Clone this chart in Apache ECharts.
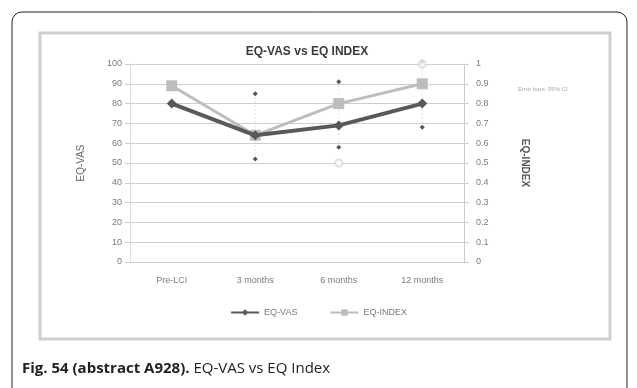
<!DOCTYPE html>
<html>
<head>
<meta charset="utf-8">
<script src="https://cdn.jsdelivr.net/npm/echarts@6/dist/echarts.min.js"></script>
<style>
  html, body { margin: 0; padding: 0; background: #fff; }
  #chart { width: 637px; height: 388px; }
</style>
</head>
<body>
<div id="chart"></div>
<script>
const categories = ['Pre-LCI', '3 months', '6 months', '12 months'];
const eqVas = [80, 64, 69, 80];
const eqIndex = [0.89, 0.64, 0.80, 0.90];
// whisker ends (EQ-VAS scale)
const vasLow = [null, 52, 58, 68];
const vasHigh = [null, 85, 91, 101];
// faint open circles (EQ-INDEX scale)
const indexEnds = [null, null, 0.50, 1.0];
const vasTicks = [0, 100, 10];
const indexTicks = [0, 1, 0.1];

const chart = echarts.init(document.getElementById('chart'));

const labelStyle = { color: '#7a7a7a', fontSize: 9, fontFamily: 'Liberation Sans' };

chart.setOption({
    animation: false,
    title: {
        text: 'EQ-VAS vs EQ INDEX',
        left: 302, top: 41, textAlign: 'center',
        textStyle: { fontSize: 12, fontWeight: 'bold', color: '#3a3a3a', fontFamily: 'Liberation Sans' }
    },
    grid: { left: 130, right: 173, top: 64, bottom: 126 },
    legend: {
        bottom: 66, left: 'center',
        itemWidth: 28, itemHeight: 8, itemGap: 32,
        textStyle: { color: '#7a7a7a', fontSize: 9 },
        data: ['EQ-VAS', 'EQ-INDEX']
    },
    xAxis: {
        type: 'category', data: categories,
        axisLine: { lineStyle: { color: '#ccc', type: 'dotted' } },
        axisTick: { show: false },
        axisLabel: Object.assign({ margin: 14 }, labelStyle)
    },
    yAxis: [{
        type: 'value', min: vasTicks[0], max: vasTicks[1], interval: vasTicks[2],
        name: 'EQ-VAS', nameLocation: 'middle', nameGap: 44, nameRotate: 90,
        nameTextStyle: { color: '#666', fontSize: 10 },
        axisLine: { show: true, lineStyle: { color: '#ddd' } },
        axisTick: { show: true, lineStyle: { color: '#ccc' } },
        axisLabel: labelStyle,
        splitLine: { lineStyle: { color: '#cfcfcf' } }
    }, {
        type: 'value', min: indexTicks[0], max: indexTicks[1], interval: indexTicks[2],
        name: 'EQ-INDEX', nameLocation: 'middle', nameGap: 56, nameRotate: -90,
        nameTextStyle: { color: '#555', fontSize: 10, fontWeight: 'bold' },
        axisLine: { show: true, lineStyle: { color: '#ccc' } },
        axisTick: { show: true, lineStyle: { color: '#ccc' } },
        axisLabel: Object.assign({ margin: 12 }, labelStyle),
        splitLine: { show: false }
    }],
    series: [{
        name: 'whiskers', type: 'custom', yAxisIndex: 0, clip: false, z: 1,
        data: categories.map((c, i) => [i, vasLow[i], vasHigh[i]]).filter(d => d[1] !== null),
        renderItem: function (params, api) {
            const lo = api.coord([api.value(0), api.value(1)]);
            const hi = api.coord([api.value(0), api.value(2)]);
            const d = 2.5;
            const diamond = p => ({
                type: 'polygon',
                shape: { points: [[p[0], p[1] - d], [p[0] + d, p[1]], [p[0], p[1] + d], [p[0] - d, p[1]]] },
                style: { fill: '#555' }
            });
            return {
                type: 'group',
                children: [{
                    type: 'line',
                    shape: { x1: lo[0], y1: lo[1], x2: hi[0], y2: hi[1] },
                    style: { stroke: '#e0e0e0', lineWidth: 1, lineDash: [2, 2] }
                }, diamond(lo), diamond(hi)]
            };
        }
    }, {
        name: 'index ends', type: 'scatter', yAxisIndex: 1, z: 1,
        data: indexEnds, symbol: 'emptyCircle', symbolSize: 7,
        itemStyle: { color: '#d8d8d8', borderWidth: 1 }
    }, {
        name: 'EQ-INDEX', type: 'line', yAxisIndex: 1, data: eqIndex, z: 2,
        symbol: 'rect', symbolSize: 11,
        lineStyle: { color: '#bdbdbd', width: 3 },
        itemStyle: { color: '#bdbdbd' }
    }, {
        name: 'EQ-VAS', type: 'line', yAxisIndex: 0, data: eqVas, z: 3,
        symbol: 'diamond', symbolSize: 10,
        lineStyle: { color: '#595959', width: 4 },
        itemStyle: { color: '#595959' }
    }],
    graphic: [{
        type: 'rect', z: -10,
        shape: { x: 12, y: 12, width: 615, height: 400, r: 10 },
        style: { fill: '#fff', stroke: '#222', lineWidth: 1 }
    }, {
        type: 'rect', z: -5,
        shape: { x: 40, y: 33, width: 570, height: 306 },
        style: { fill: '#fff', stroke: '#cfcfcf', lineWidth: 3 }
    }, {
        type: 'text', left: 518, top: 86,
        style: { text: 'Error bars: 95% CI', fill: '#a8a8a8', fontSize: 6 }
    }, {
        type: 'text', left: 22, top: 361,
        style: {
            text: '{b|Fig. 54 (abstract A928).} EQ-VAS vs EQ Index',
            fill: '#222', fontSize: 15, fontFamily: 'Open Sans',
            rich: { b: { fontWeight: 'bold', fontSize: 15, fill: '#222', fontFamily: 'Open Sans' } }
        }
    }]
});
</script>
</body>
</html>
